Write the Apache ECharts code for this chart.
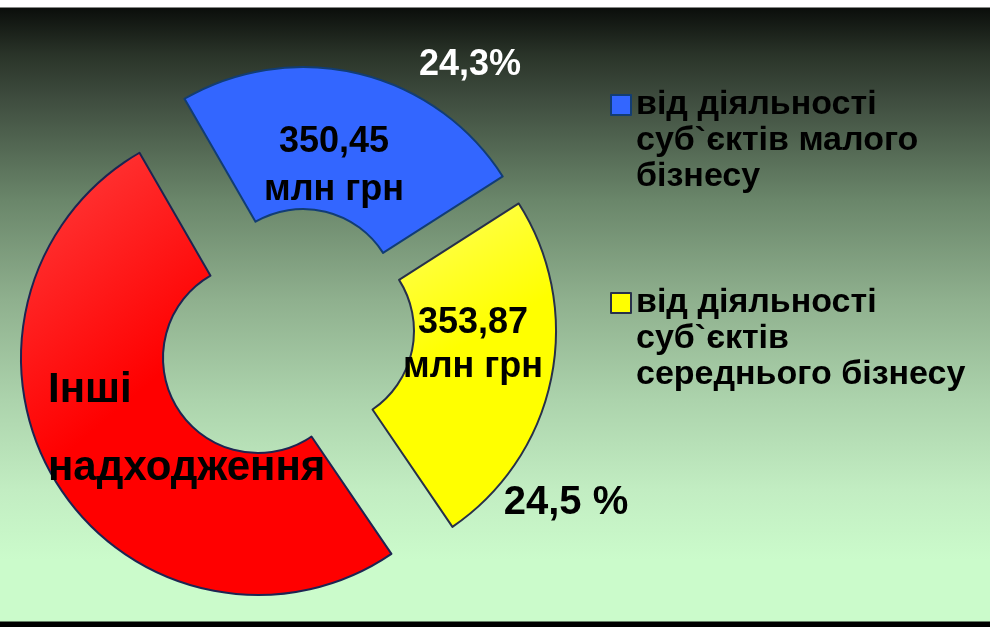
<!DOCTYPE html>
<html>
<head>
<meta charset="utf-8">
<script src="https://cdn.jsdelivr.net/npm/echarts@6/dist/echarts.min.js"></script>
<style>
  html, body { margin: 0; padding: 0; }
  #chart {
    width: 990px;
    height: 627px;
    background: linear-gradient(to bottom,
      #ffffff 0px, #ffffff 7px,
      #0b0e0b 8px, #2a3429 55px, #3f4d3f 100px, #6a866a 200px,
      #8fb08e 300px, #acd3ac 400px, #c2edc2 490px, #cbfbcb 560px,
      #cbfbcb 621px, #000000 622px, #000000 627px);
  }
</style>
</head>
<body>
<div id="chart"></div>
<script>
// --- Data ---
const sliceNames = ['малий бізнес', 'середній бізнес', 'інші'];
const sliceValues = [350.45, 353.87, 738.5];
const sliceColors = ['#3366ff', '#ffff00', '#ff0000'];
const borderColors = ['#123d74', '#27304a', '#1d2452'];
const legendLabels = [
  'від діяльності\nсуб`єктів малого\nбізнесу',
  'від діяльності\nсуб`єктів\nсереднього бізнесу'
];
const otherLabel = 'Інші\nнадходження';
const unitLabel = 'млн грн';

// each slice pulled out from the ring by its own amount
const sliceCenters = [[303, 304], [319, 331], [258, 358]];
const RING = [95, 237];
const FONT = '"Liberation Sans", Arial, sans-serif';

const chart = echarts.init(document.getElementById('chart'));

const fmtNum = v => v.toFixed(2).replace('.', ',');

// slight sheen on the red and yellow pieces
const sheen = (light, base) => ({
  type: 'linear', x: 0, y: 0, x2: 1, y2: 1,
  colorStops: [{ offset: 0, color: light }, { offset: 0.45, color: base }, { offset: 1, color: base }]
});
const fills = [sliceColors[0], sheen('#ffff66', sliceColors[1]), sheen('#ff4040', sliceColors[2])];

// inner label placement (label centre / anchor)
const innerLabelPos = [
  { x: 334, y: 166, align: 'center', lineHeight: 48 },
  { x: 473, y: 345, align: 'center', lineHeight: 44 },
  { x: 48, y: 429, align: 'left', lineHeight: 78 }
];

const sliceSeries = sliceCenters.map((center, s) => ({
  type: 'pie',
  center: center,
  radius: RING,
  startAngle: 120,
  clockwise: true,
  silent: true,
  avoidLabelOverlap: false,
  labelLine: { show: false },
  label: {
    show: true,
    position: 'inside',
    color: '#000',
    fontFamily: FONT,
    fontWeight: 'bold',
    fontSize: s === 2 ? 42 : 36,
    lineHeight: innerLabelPos[s].lineHeight,
    formatter: p => (p.dataIndex === 2 ? otherLabel : fmtNum(p.value) + '\n' + unitLabel)
  },
  labelLayout: () => ({
    x: innerLabelPos[s].x,
    y: innerLabelPos[s].y,
    align: innerLabelPos[s].align,
    verticalAlign: 'middle'
  }),
  data: sliceValues.map((v, i) => ({
    name: sliceNames[i],
    value: v,
    itemStyle: i === s
      ? { color: fills[i], borderColor: borderColors[i], borderWidth: 2 }
      : { color: 'transparent', borderWidth: 0 },
    label: { show: i === s }
  }))
}));

// percent labels
const pctLabelPos = [
  { x: 470, y: 65, color: '#ffffff', fontSize: 36, sep: '' },
  { x: 566, y: 503, color: '#000000', fontSize: 40, sep: ' ' }
];

const pctSeries = {
  type: 'pie',
  center: [289, 334],
  radius: RING,
  startAngle: 120,
  percentPrecision: 1,
  silent: true,
  avoidLabelOverlap: false,
  labelLine: { show: false },
  itemStyle: { color: 'transparent', borderWidth: 0 },
  label: {
    show: true,
    position: 'outside',
    fontFamily: FONT,
    fontWeight: 'bold',
    formatter: p => {
      const pos = pctLabelPos[p.dataIndex];
      return pos ? String(p.percent).replace('.', ',') + pos.sep + '%' : '';
    }
  },
  labelLayout: p => {
    const pos = pctLabelPos[p.dataIndex];
    return pos ? { x: pos.x, y: pos.y, align: 'center', verticalAlign: 'middle' } : {};
  },
  data: sliceValues.map((v, i) => ({
    name: 'pct ' + i,
    value: v,
    label: pctLabelPos[i]
      ? { color: pctLabelPos[i].color, fontSize: pctLabelPos[i].fontSize }
      : { show: false }
  }))
};

const option = {
  animation: false,
  legend: {
    orient: 'vertical',
    left: 610,
    top: 15,
    padding: 0,
    itemGap: 18,
    itemWidth: 20,
    itemHeight: 20,
    icon: 'rect',
    selectedMode: false,
    data: [0, 1].map(i => ({
      name: sliceNames[i],
      itemStyle: { color: sliceColors[i], borderColor: borderColors[i], borderWidth: 2 }
    })),
    // two blank lines on top keep the first text line level with the icon
    formatter: name => '\n\n' + legendLabels[sliceNames.indexOf(name)],
    textStyle: {
      color: '#000',
      fontFamily: FONT,
      fontWeight: 'bold',
      fontSize: 34,
      lineHeight: 36
    }
  },
  series: sliceSeries.concat([pctSeries])
};

chart.setOption(option);
</script>
</body>
</html>
